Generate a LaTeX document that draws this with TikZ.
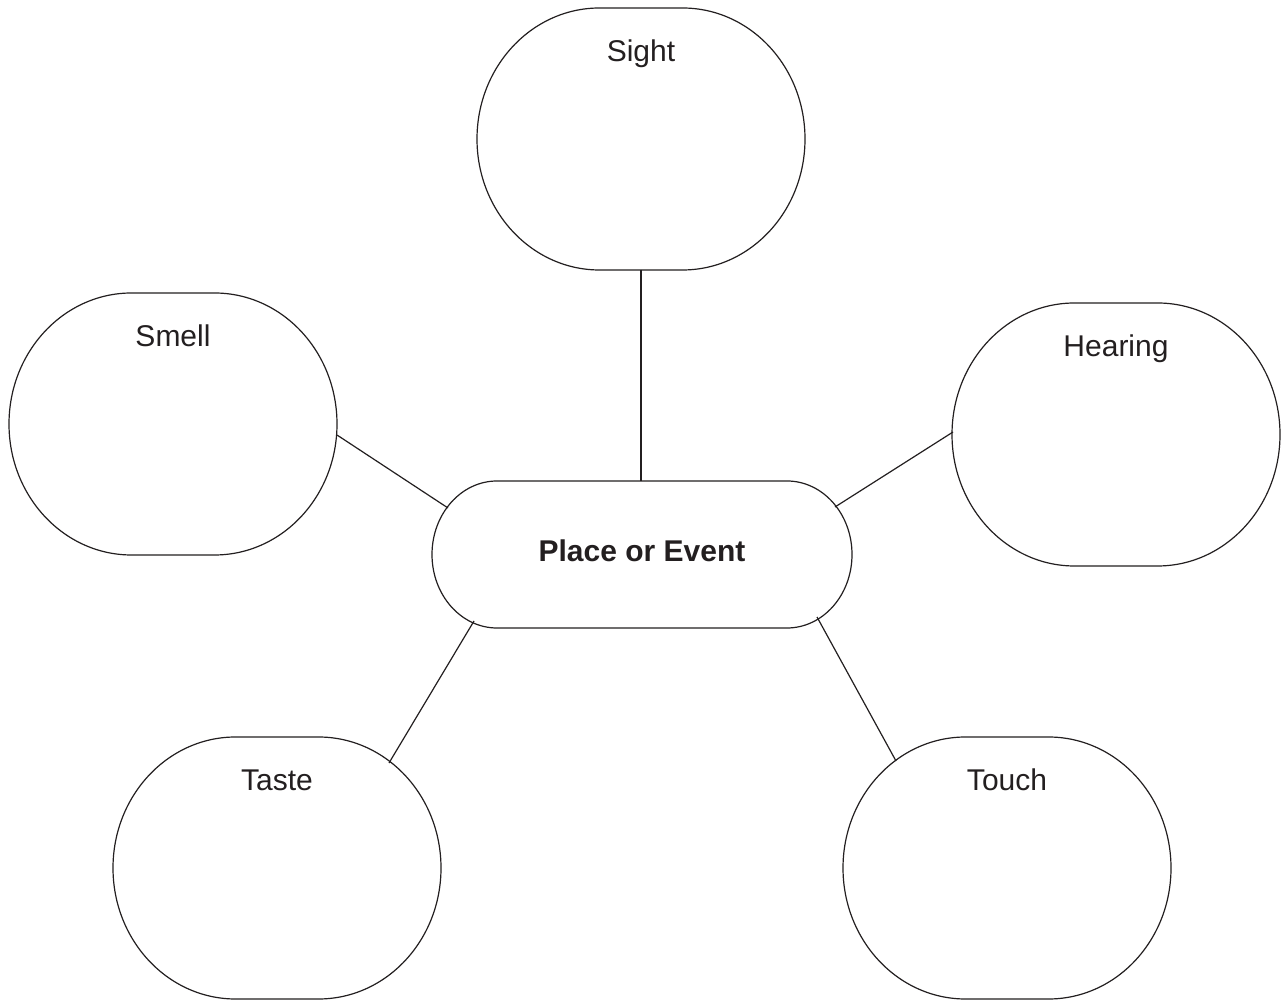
\documentclass[tikz,border=0pt]{standalone}
\usepackage{fontspec}
\setmainfont{Liberation Sans}
\definecolor{ink}{HTML}{231F20}
\tikzset{
  blobbox/.style={draw=none, inner sep=0pt, outer sep=0pt, minimum width=328pt, minimum height=262pt},
  hubbox/.style={draw=none, inner sep=0pt, outer sep=0pt, minimum width=420pt, minimum height=147pt},
  outline/.style={draw=ink, line width=1.2pt},
  link/.style={draw=ink, line width=1.2pt},
  senselabel/.style={anchor=base, inner sep=0pt, text=ink, font=\fontsize{30}{36}\selectfont},
  hublabel/.style={anchor=base, inner sep=0pt, text=ink, font=\fontsize{30}{36}\selectfont\bfseries}
}
% #1 node name, #2 half flat width, #3 x radius, #4 y radius
\newcommand\roundshape[4]{%
  \path[outline] ([xshift=-#2pt]#1.north) -- ([xshift=#2pt]#1.north)
    arc[start angle=90, end angle=0, x radius=#3pt, y radius=#4pt]
    arc[start angle=0, end angle=-90, x radius=#3pt, y radius=#4pt]
    -- ([xshift=-#2pt]#1.south)
    arc[start angle=270, end angle=180, x radius=#3pt, y radius=#4pt]
    arc[start angle=180, end angle=90, x radius=#3pt, y radius=#4pt]
    -- cycle;}
\begin{document}
\begin{tikzpicture}[x=1pt, y=1pt]
\useasboundingbox[fill=white] (0,0) rectangle (1287,1001);
% shape holders
\node[blobbox] (sight) at (641,862) {};
\node[blobbox] (smell) at (173,577) {};
\node[blobbox, minimum height=263pt] (hearing) at (1116,566.5) {};
\node[blobbox] (taste) at (277,133) {};
\node[blobbox] (touch) at (1007,133) {};
\node[hubbox] (hub) at (642,446.5) {};
% outlines
\roundshape{sight}{41.5}{122.5}{131}
\roundshape{smell}{41.5}{122.5}{131}
\roundshape{hearing}{41.5}{122.5}{131.5}
\roundshape{taste}{41.5}{122.5}{131}
\roundshape{touch}{41.5}{122.5}{131}
\roundshape{hub}{145}{65}{73.5}
% labels
\node[senselabel] (sightlabel) at ([yshift=-54pt]sight.north) {Sight};
\node[senselabel] (smelllabel) at ([yshift=-54pt]smell.north) {Smell};
\node[senselabel] (hearinglabel) at ([yshift=-54pt]hearing.north) {Hearing};
\node[senselabel] (tastelabel) at ([yshift=-54pt]taste.north) {Taste};
\node[senselabel] (touchlabel) at ([yshift=-54pt]touch.north) {Touch};
\node[hublabel] (hublabel) at ([yshift=-7.5pt]hub.center) {Place or Event};
% connector end points
\coordinate (sightend) at (641,731);
\coordinate (hubtop) at (641,520);
\coordinate (smellend) at (337,566);
\coordinate (hubsmell) at (448,493);
\coordinate (hearingend) at (953,569);
\coordinate (hubhearing) at (835,494);
\coordinate (tasteend) at (389,238);
\coordinate (hubtaste) at (474,380);
\coordinate (touchend) at (896,240);
\coordinate (hubtouch) at (817,384);
% connectors
\draw[link] (sightend) -- (hubtop);
\draw[link] (smellend) -- (hubsmell);
\draw[link] (hearingend) -- (hubhearing);
\draw[link] (tasteend) -- (hubtaste);
\draw[link] (touchend) -- (hubtouch);
\end{tikzpicture}
\end{document}
